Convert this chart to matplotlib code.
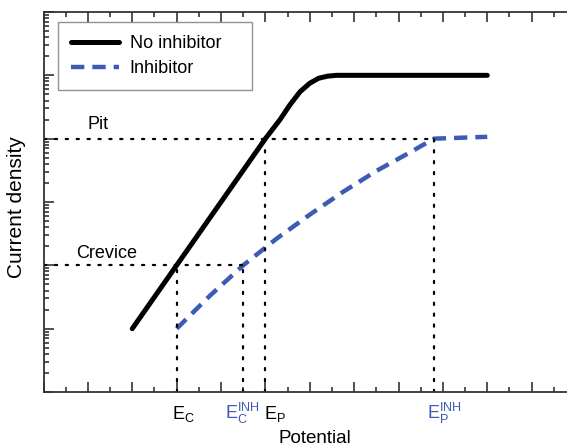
import matplotlib
matplotlib.use("Agg")
import matplotlib.pyplot as plt

# ------------------------------------------------------------
# data (log current vs potential units)
# ------------------------------------------------------------
potential_no = [2.0, 3.0, 5.0, 5.33, 5.55, 5.78, 6.0, 6.2, 6.4, 6.6, 10.0]
current_no = [1e1, 1e2, 1e4, 2.0e4, 3.39e4, 5.5e4, 7.5e4, 9.0e4,
              9.7e4, 1.0e5, 1.0e5]

potential_inh = [3.0, 3.75, 4.5, 5.25, 6.0, 6.75, 7.5, 8.25, 8.8, 10.0]
current_inh = [1e1, 33.1, 1e2, 263, 631, 1445, 3090, 6026, 1.0e4, 1.07e4]

level_names = ["Crevice", "Pit"]
level_current = [1e2, 1e4]
level_potential = [[3.0, 4.5], [5.0, 8.8]]

tick_names = [r"E$_C$", r"E$_C^{INH}$", r"E$_P$", r"E$_P^{INH}$"]
tick_potential = [3.0, 4.5, 5.0, 8.8]
tick_blue = [False, True, False, True]

legend_labels = ["No inhibitor", "Inhibitor"]

# ------------------------------------------------------------
# figure
# ------------------------------------------------------------
plt.rcParams["font.family"] = ["Liberation Sans", "DejaVu Sans"]
plt.rcParams["mathtext.default"] = "regular"
plt.rcParams["font.size"] = 13

blue = "#3b5bb7"
spine = "#333333"

fig = plt.figure(figsize=(5.67, 4.47), dpi=100)
ax = fig.add_axes([43.5 / 567, 55 / 447, 532.5 / 567, 380 / 447])

ax.plot(potential_no, current_no, color="black", lw=3.6,
        solid_capstyle="round", solid_joinstyle="round", label=legend_labels[0])
ax.plot(potential_inh, current_inh, color=blue, lw=3.2,
        linestyle=(0, (3, 1.8)), label=legend_labels[1])

dots = dict(color="black", lw=1.6, linestyle=(0, (1, 3.9)),
            dash_capstyle="round")
for name, cur, pots in zip(level_names, level_current, level_potential):
    ax.plot([0, max(pots)], [cur, cur], **dots)
    for p in pots:
        ax.plot([p, p], [1, cur], **dots)

ax.text(1.0, 1.43e4, "Pit", va="baseline", ha="left")
ax.text(0.73, 131, "Crevice", va="baseline", ha="left")

shifts = [-3, -13, -1, -5]
for name, p, b, dx in zip(tick_names, tick_potential, tick_blue, shifts):
    ax.annotate(name, xy=(p, 0), xycoords=("data", "axes fraction"),
                xytext=(dx, -19.5), textcoords="offset points",
                ha="left", va="baseline", color=blue if b else "black")

ax.set_yscale("log")
ax.set_ylim(1, 1e6)
ax.set_xlim(0, 12)
ax.set_xticks(range(0, 13))
ax.set_xticks([i + 0.5 for i in range(12)], minor=True)
ax.tick_params(which="both", direction="in", top=True, right=False,
               labelbottom=False, labelleft=False, color=spine, width=1.2)
ax.tick_params(which="major", length=7)
ax.tick_params(which="minor", length=3.5)
for s in ax.spines.values():
    s.set_color(spine)
    s.set_linewidth(1.3)

leg = ax.legend(loc="upper left", bbox_to_anchor=(0.027, 0.8, 0.364, 0.174),
                mode="expand", borderaxespad=0, fancybox=False,
                edgecolor="#777777", handlelength=2.65, handletextpad=0.6,
                borderpad=0.72, labelspacing=0.45, fontsize=13)
leg.get_frame().set_linewidth(1.0)

fig.text(17 / 567, 1 - 207 / 447, "Current density", rotation=90,
         ha="center", va="center", fontsize=15)
fig.text(315 / 567, 4 / 447, "Potential", ha="center", va="baseline",
         fontsize=13.5)

fig.savefig("out.png", dpi=100)
